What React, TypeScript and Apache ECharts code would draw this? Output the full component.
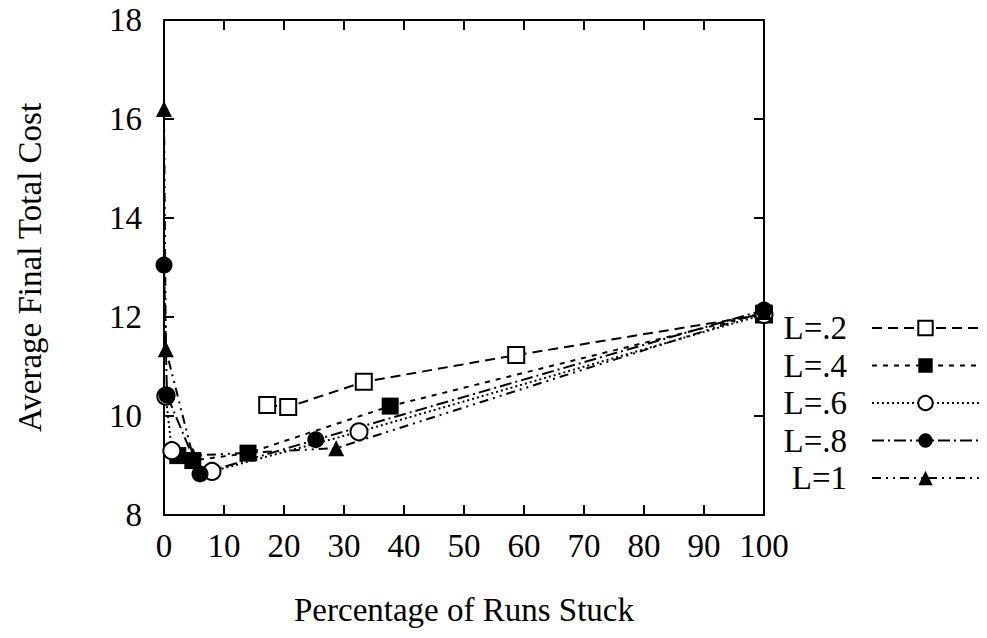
import React, { useEffect, useRef } from "react";
import * as echarts from "echarts";

const seriesNames = ["L=.2", "L=.4", "L=.6", "L=.8", "L=1"];
const l02: number[][] = [[17.2, 10.22], [20.7, 10.18], [33.3, 10.69], [58.7, 11.23], [100, 12.05]];
const l04: number[][] = [[2.3, 9.2], [4.8, 9.1], [14.0, 9.25], [37.7, 10.2], [100, 12.08]];
const l06: number[][] = [[0.3, 10.4], [1.3, 9.3], [8.0, 8.88], [32.5, 9.68], [100, 12.05]];
const l08: number[][] = [[0, 13.05], [0.5, 10.42], [6.0, 8.83], [25.3, 9.52], [100, 12.14]];
const l1: number[][] = [[0, 16.2], [0.3, 11.35], [4.8, 9.2], [28.7, 9.35], [100, 12.1]];
const xTicks = { min: 0, max: 100, interval: 10 };
const yTicks = { min: 8, max: 18, interval: 2 };

const FONT = "Liberation Serif";

export default function App() {
  const ref = useRef<HTMLDivElement>(null);
  useEffect(() => {
    if (!ref.current) return;
    const chart = echarts.init(ref.current, undefined, { renderer: "svg" });
    const data = [l02, l04, l06, l08, l1];
    const symbols = ["rect", "rect", "circle", "circle", "triangle"];
    const filled = [false, true, false, true, true];
    const sizes = [16, 17, 17, 17, 16];
    const dashes: any[] = [[10, 6], [5, 6], [2, 3], [12, 4, 2, 4], [9, 5, 2, 5, 2, 5]];
    const series = data.map((d, i) => ({
      name: seriesNames[i],
      type: "line",
      data: d,
      xAxisIndex: 0,
      yAxisIndex: 0,
      clip: false,
      symbol: symbols[i],
      symbolSize: sizes[i],
      showAllSymbol: true,
      lineStyle: { color: "#000", width: 2, type: dashes[i] },
      itemStyle: {
        color: filled[i] ? "#000" : "#fff",
        borderColor: "#000",
        borderWidth: filled[i] ? 0 : 2,
      },
      emphasis: { disabled: true },
      z: 3,
    }));
    const axisLine = { show: true, onZero: false, lineStyle: { color: "#000", width: 2 } };
    const tick = { show: true, inside: true, length: 10, lineStyle: { color: "#000", width: 2 } };
    chart.setOption({
      animation: false,
      backgroundColor: "#fff",
      textStyle: { fontFamily: FONT },
      grid: { left: 164, right: 223, top: 20, bottom: 123, show: false },
      legend: {
        orient: "vertical",
        right: 7,
        top: 311,
        padding: 0,
        align: "right",
        itemWidth: 107,
        itemHeight: 18,
        itemGap: 3.5,
        textStyle: {
          fontFamily: FONT,
          fontSize: 33,
          lineHeight: 34,
          color: "#000",
          width: 72,
          align: "right",
          padding: [0, 20, 0, 0],
        },
        data: seriesNames,
      },
      xAxis: [
        {
          type: "value",
          ...xTicks,
          position: "bottom",
          axisLine,
          axisTick: tick,
          splitLine: { show: false },
          axisLabel: { fontFamily: FONT, fontSize: 33, color: "#000", margin: 14 },
          name: "Percentage of Runs Stuck",
          nameLocation: "middle",
          nameGap: 78,
          nameTextStyle: { fontFamily: FONT, fontSize: 33, color: "#000" },
        },
        {
          type: "value",
          ...xTicks,
          position: "top",
          axisLine,
          axisTick: tick,
          splitLine: { show: false },
          axisLabel: { show: false },
        },
      ],
      yAxis: [
        {
          type: "value",
          ...yTicks,
          position: "left",
          axisLine,
          axisTick: tick,
          splitLine: { show: false },
          axisLabel: { fontFamily: FONT, fontSize: 33, color: "#000", margin: 22 },
          name: "Average Final Total Cost",
          nameLocation: "middle",
          nameGap: 118,
          nameRotate: 90,
          nameTextStyle: { fontFamily: FONT, fontSize: 33, color: "#000" },
        },
        {
          type: "value",
          ...yTicks,
          position: "right",
          axisLine,
          axisTick: tick,
          splitLine: { show: false },
          axisLabel: { show: false },
        },
      ],
      series,
    });
    return () => chart.dispose();
  }, []);
  return <div ref={ref} style={{ width: 987, height: 638, position: "absolute", left: 0, top: 0 }} />;
}
